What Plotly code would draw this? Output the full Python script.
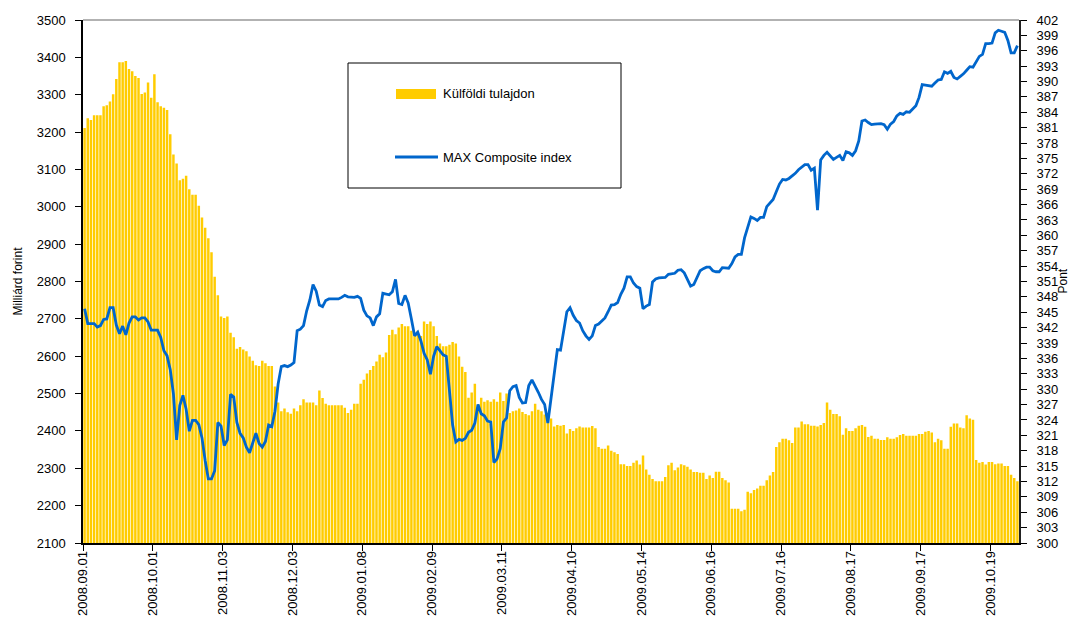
import plotly.graph_objects as go

# ---------------- data ----------------
tick_labels = ["2008.09.01", "2008.10.01", "2008.11.03", "2008.12.03", "2009.01.08",
               "2009.02.09", "2009.03.11", "2009.04.10", "2009.05.14", "2009.06.16",
               "2009.07.16", "2009.08.17", "2009.09.17", "2009.10.19"]
label_step = 22  # trading days between two date labels

# Külföldi tulajdon (Milliárd forint), one value per trading day
foreign_ownership = [
    3211, 3237, 3232, 3245, 3245, 3245, 3269, 3272, 3282, 3301,
    3342, 3387, 3387, 3390, 3369, 3363, 3350, 3345, 3302, 3306,
    3333, 3292, 3355, 3280, 3269, 3265, 3259, 3194, 3140, 3116,
    3071, 3075, 3083, 3047, 3032, 3032, 3003, 2971, 2944, 2916,
    2878, 2813, 2763, 2706, 2702, 2706, 2663, 2651, 2620, 2625,
    2618, 2613, 2599, 2588, 2576, 2574, 2588, 2581, 2574, 2574,
    2519, 2476, 2453, 2460, 2450, 2446, 2460, 2453, 2469, 2485,
    2476, 2476, 2476, 2469, 2508, 2488, 2473, 2469, 2469, 2469,
    2469, 2469, 2462, 2448, 2457, 2473, 2473, 2526, 2537, 2554,
    2563, 2574, 2586, 2604, 2597, 2610, 2657, 2671, 2659, 2677,
    2686, 2680, 2680, 2668, 2654, 2668, 2654, 2693, 2686, 2693,
    2680, 2654, 2634, 2627, 2627, 2631, 2638, 2634, 2599, 2572,
    2558, 2489, 2503, 2526, 2471, 2489, 2478, 2482, 2478, 2485,
    2478, 2503, 2480, 2500, 2448, 2453, 2455, 2460, 2451, 2445,
    2442, 2453, 2473, 2457, 2453, 2444, 2448, 2433, 2412, 2416,
    2414, 2416, 2393, 2405, 2400, 2407, 2412, 2409, 2409, 2409,
    2413, 2407, 2357, 2352, 2352, 2361, 2347, 2343, 2338, 2311,
    2311, 2306, 2306, 2315, 2321, 2310, 2334, 2297, 2283, 2271,
    2265, 2265, 2265, 2277, 2308, 2315, 2295, 2302, 2311, 2308,
    2304, 2297, 2290, 2290, 2288, 2288, 2271, 2281, 2274, 2291,
    2291, 2274, 2268, 2262, 2192, 2192, 2192, 2185, 2189, 2237,
    2233, 2242, 2246, 2253, 2253, 2268, 2281, 2290, 2357, 2370,
    2379, 2379, 2375, 2368, 2409, 2409, 2425, 2418, 2418, 2414,
    2414, 2412, 2416, 2421, 2476, 2457, 2445, 2445, 2439, 2390,
    2407, 2400, 2400, 2407, 2414, 2416, 2411, 2384, 2387, 2379,
    2379, 2376, 2376, 2383, 2379, 2379, 2383, 2389, 2392, 2387,
    2387, 2387, 2387, 2392, 2392, 2398, 2400, 2396, 2370, 2379,
    2375, 2352, 2352, 2411, 2420, 2420, 2409, 2407, 2442, 2433,
    2430, 2322, 2315, 2317, 2310, 2317, 2317, 2311, 2313, 2313,
    2306, 2306, 2283, 2274, 2265,
]

# MAX Composite index (Pont), one value per trading day
max_composite = [
    345.7, 342.8, 342.8, 342.8, 342.1, 342.4, 343.6, 343.7, 345.9, 345.9,
    342.5, 340.8, 342.3, 340.6, 342.9, 344.1, 344.1, 343.5, 343.9, 343.9,
    343.1, 341.5, 341.5, 341.5, 340.1, 337.5, 336.5, 333.8, 329.1, 320.1,
    326.8, 328.8, 326.1, 321.8, 323.9, 323.9, 323.1, 320.5, 316.1, 312.5,
    312.5, 314.1, 323.5, 322.8, 319.0, 320.1, 329.0, 328.5, 323.5, 321.4,
    320.5, 318.7, 317.6, 319.7, 321.4, 319.4, 318.7, 319.8, 323.0, 322.7,
    325.7, 331.0, 334.4, 334.6, 334.4, 334.7, 335.2, 341.4, 341.7, 342.4,
    345.3, 347.4, 350.4, 349.1, 346.4, 346.1, 347.3, 347.6, 347.6, 347.6,
    347.6, 347.9, 348.3, 348.0, 347.9, 347.9, 348.1, 347.7, 345.4, 344.3,
    343.9, 342.4, 344.1, 344.7, 348.7, 348.5, 348.4, 349.0, 351.4, 346.7,
    346.5, 348.3, 346.8, 343.7, 340.4, 341.1, 339.4, 337.0, 335.7, 332.9,
    336.4, 338.3, 337.4, 336.7, 336.4, 330.4, 323.0, 319.7, 320.2, 320.0,
    320.4, 321.6, 322.0, 323.4, 327.0, 325.2, 324.8, 323.8, 323.6, 315.7,
    316.4, 318.4, 323.6, 324.4, 329.7, 330.5, 330.7, 328.4, 327.3, 327.4,
    330.7, 331.8, 330.7, 329.4, 328.0, 327.0, 323.4, 328.4, 333.4, 337.7,
    337.6, 341.7, 345.1, 345.9, 344.4, 343.4, 342.9, 341.4, 340.4, 339.7,
    340.4, 342.4, 342.7, 343.3, 343.9, 345.1, 346.4, 346.5, 346.9, 348.5,
    349.7, 351.9, 351.9, 350.7, 350.0, 349.7, 345.7, 346.2, 346.5, 350.9,
    351.5, 351.7, 351.7, 351.8, 352.4, 352.5, 352.6, 353.2, 353.3, 352.7,
    351.4, 350.1, 350.4, 351.7, 353.1, 353.5, 353.8, 353.8, 353.1, 352.9,
    352.9, 353.7, 353.7, 353.6, 354.5, 355.8, 356.3, 356.3, 359.5, 361.8,
    363.6, 363.3, 362.9, 363.5, 363.5, 365.6, 366.4, 367.0, 368.5, 370.0,
    370.9, 370.8, 371.1, 371.6, 372.1, 372.8, 373.3, 373.8, 373.8, 372.7,
    373.1, 364.9, 374.7, 375.6, 376.2, 375.4, 374.8, 375.2, 375.6, 374.6,
    376.3, 376.1, 375.6, 376.5, 378.4, 382.3, 382.5, 382.0, 381.6, 381.7,
    381.8, 381.8, 381.6, 380.7, 381.7, 382.2, 383.3, 383.8, 383.6, 384.1,
    384.0, 384.6, 385.3, 386.9, 389.4, 389.3, 389.2, 389.1, 389.7, 390.3,
    390.4, 391.9, 391.6, 392.0, 390.8, 390.5, 391.0, 391.5, 392.2, 392.9,
    392.8, 393.8, 394.9, 395.3, 397.4, 397.4, 397.5, 399.5, 400.0, 399.8,
    399.6, 398.0, 395.6, 395.6, 397.0,
]

trading_days = list(range(len(foreign_ownership)))
tick_positions = [k * label_step - 0.5 for k in range(len(tick_labels))]
left_ticks = list(range(2100, 3501, 100))
right_ticks = list(range(300, 403, 3))

# ---------------- styling ----------------
FONT = "Liberation Sans, Arial, sans-serif"
BAR_COLOR = "#FFCC00"
LINE_COLOR = "#0066CC"
OFF = 8                      # page body margin of the html page
W, H = 1078 - 2 * OFF, 625 - 2 * OFF
PLOT_L, PLOT_R, PLOT_T, PLOT_B = 83, 1019, 20, 543   # plot area on the page
ML, MT = PLOT_L - OFF, PLOT_T - OFF
MR, MB = W - (PLOT_R - OFF), H - (PLOT_B - OFF)
PW, PH = W - ML - MR, H - MT - MB


def px(x):   # page pixel -> paper fraction
    return (x - OFF - ML) / PW


def py(y):
    return (H - MB - (y - OFF)) / PH


fig = go.Figure()
fig.add_trace(go.Bar(x=trading_days, y=foreign_ownership, name="Külföldi tulajdon",
                     marker=dict(color=BAR_COLOR, line=dict(width=0)),
                     yaxis="y", showlegend=False))
fig.add_trace(go.Scatter(x=trading_days, y=max_composite, name="MAX Composite index",
                         mode="lines", line=dict(color=LINE_COLOR, width=2.8),
                         yaxis="y2", showlegend=False))

tickfont = dict(family=FONT, size=13, color="#000000")
xrange = [-0.5, len(trading_days) - 0.5]

fig.update_layout(
    width=W, height=H,
    margin=dict(l=ML, r=MR, t=MT, b=MB, pad=0, autoexpand=False),
    paper_bgcolor="white", plot_bgcolor="white",
    bargap=0.22,
    font=dict(family=FONT, size=13, color="#000000"),
    xaxis=dict(range=xrange, tickmode="array", tickvals=tick_positions, ticktext=tick_labels,
               tickangle=-90, ticks="outside", ticklen=6, tickwidth=1, tickcolor="#000000",
               showline=True, linecolor="#000000", linewidth=1.5, showgrid=False,
               zeroline=False, tickfont=tickfont, ticklabelstandoff=-5, automargin=False),
    xaxis2=dict(range=xrange, overlaying="x", anchor="y", tickmode="array",
                tickvals=tick_positions, ticks="inside", ticklen=6, tickwidth=1,
                tickcolor="#000000", showticklabels=False, showline=False,
                showgrid=False, zeroline=False, automargin=False),
    yaxis=dict(range=[2100, 3500], tickmode="array", tickvals=left_ticks,
               ticks="outside", ticklen=6, tickwidth=1, tickcolor="#000000",
               showline=True, linecolor="#000000", linewidth=1.5, showgrid=False,
               zeroline=False, tickfont=tickfont, ticklabelstandoff=7, automargin=False,
               title=dict(text="Milliárd forint", font=dict(family=FONT, size=12),
                          standoff=12)),
    yaxis3=dict(range=[2100, 3500], overlaying="y", anchor="x", side="left",
                tickmode="array", tickvals=left_ticks, ticks="inside", ticklen=6,
                tickwidth=1, tickcolor="#000000", showticklabels=False,
                showline=False, showgrid=False, zeroline=False, automargin=False),
    yaxis2=dict(range=[300, 402], overlaying="y", anchor="x", side="right",
                tickmode="array", tickvals=right_ticks, ticks="outside", ticklen=6,
                tickwidth=1, tickcolor="#000000", showline=True, linecolor="#222222",
                linewidth=2, showgrid=False, zeroline=False, tickfont=tickfont,
                ticklabelstandoff=7, automargin=False),
    yaxis4=dict(range=[300, 402], overlaying="y", anchor="x", side="right",
                tickmode="array", tickvals=right_ticks, ticks="inside", ticklen=6,
                tickwidth=1, tickcolor="#000000", showticklabels=False,
                showline=False, showgrid=False, zeroline=False, automargin=False),
)

# right axis title
fig.add_annotation(xref="paper", yref="paper", x=px(1062), y=0.5, xanchor="center",
                   yanchor="middle", textangle=-90, showarrow=False, text="Pont",
                   borderpad=0, font=dict(family=FONT, size=12, color="#000000"))

# top border of the plot area
fig.add_shape(type="line", xref="paper", yref="paper", x0=0, x1=1, y0=1, y1=1,
              line=dict(color="#999999", width=1.5))

# legend box (drawn by hand to match the reference's wide swatches)
fig.add_shape(type="rect", xref="paper", yref="paper",
              x0=px(348), x1=px(621), y0=py(188), y1=py(63),
              line=dict(color="#000000", width=1), fillcolor="white", layer="above")
fig.add_shape(type="rect", xref="paper", yref="paper",
              x0=px(396), x1=px(436), y0=py(99), y1=py(89),
              line=dict(width=0), fillcolor=BAR_COLOR, layer="above")
fig.add_shape(type="line", xref="paper", yref="paper",
              x0=px(395), x1=px(438), y0=py(157), y1=py(157),
              line=dict(color=LINE_COLOR, width=2.8), layer="above")
fig.add_annotation(xref="paper", yref="paper", x=px(441), y=py(94), xanchor="left",
                   yanchor="middle", showarrow=False, text="Külföldi tulajdon",
                   font=dict(family=FONT, size=13, color="#000000"))
fig.add_annotation(xref="paper", yref="paper", x=px(441), y=py(157), xanchor="left",
                   yanchor="middle", showarrow=False, text="MAX Composite index",
                   font=dict(family=FONT, size=13, color="#000000"))

fig.write_html("out.html")
